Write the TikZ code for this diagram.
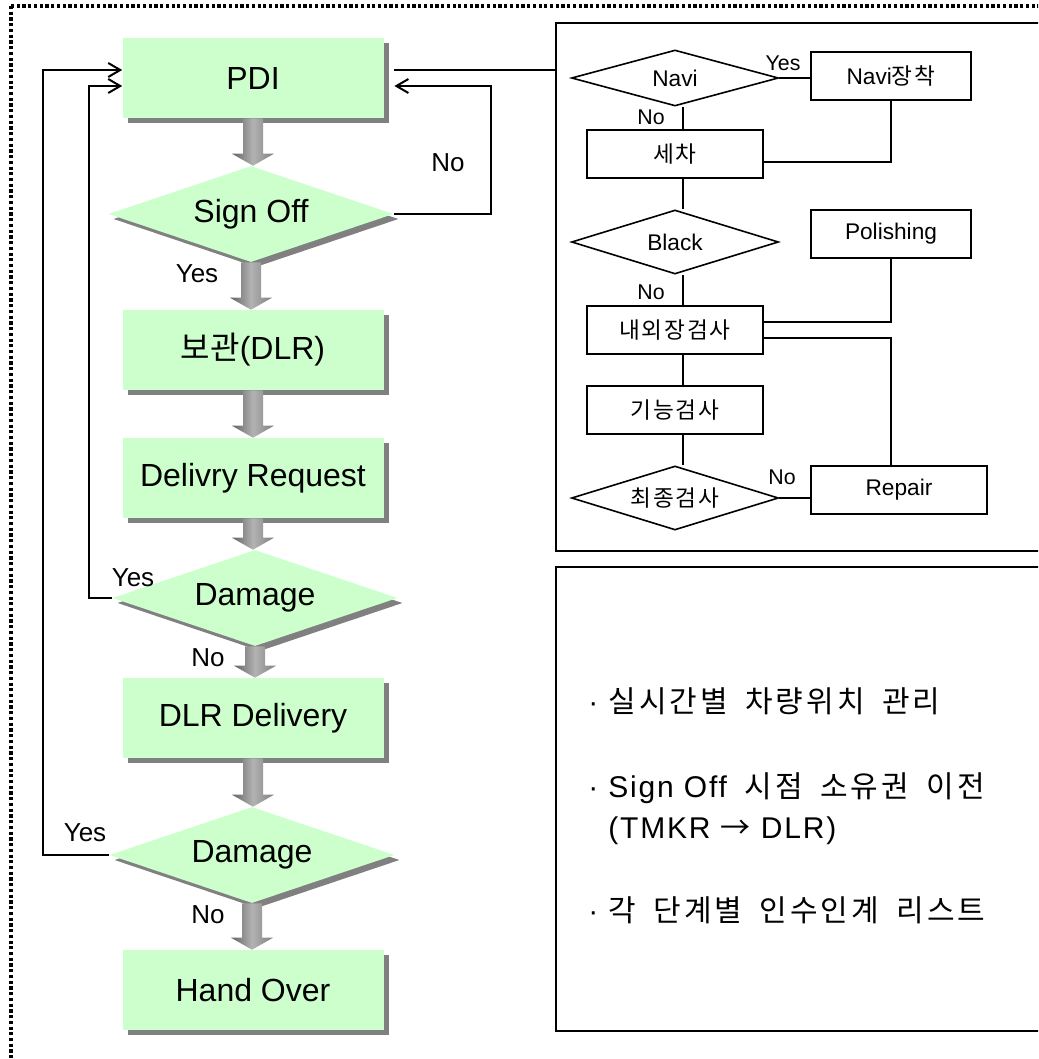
\documentclass[tikz,border=0pt]{standalone}
\usepackage{fontspec}
\setmainfont{Liberation Sans}
\newfontfamily\kr{Noto Sans CJK KR}
\newfontfamily\krproc[LetterSpace=8]{Noto Sans CJK KR}
\newfontfamily\krnote[LetterSpace=10,WordSpace=1.8]{Noto Sans CJK KR}
\newfontfamily\latnote[LetterSpace=6]{Liberation Sans}
\usepackage{tikz}
\usetikzlibrary{arrows.meta,positioning,calc,shapes.geometric,shadows}

\definecolor{mint}{RGB}{204,255,204}

\tikzset{
	dotframe/.style={draw=black, line width=3pt, dash pattern=on 2.4pt off 1.9pt},
	flowshadow/.style={drop shadow={shadow xshift=3.75pt, shadow yshift=-3.75pt, fill=black!50, opacity=1}},
	flowbox/.style={fill=mint, flowshadow, minimum width=195.75pt, minimum height=60pt, inner sep=0pt, font=\fontsize{24}{28}\selectfont},
	flowdia/.style={diamond, aspect=3, fill=mint, flowshadow, minimum width=213.75pt, minimum height=72pt, inner sep=0pt, font=\fontsize{24}{28}\selectfont},
	yesno/.style={font=\fontsize{19.5}{22}\selectfont},
	blockarrow/.style={left color=black!62, right color=black!50, middle color=black!30},
	loopline/.style={line width=1.5pt, -{Straight Barb[length=9pt,width=10.5pt]}},
	thinline/.style={line width=1.4pt},
	panel/.style={draw, line width=1.4pt, anchor=north west, minimum width=375pt, inner sep=0pt},
	procbox/.style={draw, line width=1.2pt, minimum width=132pt, minimum height=36pt, inner sep=0pt, font=\fontsize{17}{20}\selectfont},
	procdia/.style={diamond, aspect=3, draw, line width=1.2pt, minimum width=155.25pt, minimum height=42pt, inner sep=0pt, font=\fontsize{17}{20}\selectfont},
	procline/.style={line width=1.2pt},
	smalllabel/.style={font=\fontsize{16}{19}\selectfont},
	notetext/.style={anchor=base west, align=left, inner sep=0pt, font=\fontsize{22.5}{30.75}\selectfont\latnote}
}

\begin{document}
\begin{tikzpicture}[x=0.75pt, y=-0.75pt]
	\clip (0,0) rectangle (1038,1059);

	%Rahmen
	\path[dotframe] (11,6) rectangle (1070,1090);

	%Hauptablauf
	\node[flowbox] (pdi) at (253,78) {PDI};
	\node[flowdia] (signoff) at (251,214) {Sign Off};
	\node[flowbox] (store) at (253,350) {{\kr 보관}(DLR)};
	\node[flowbox] (request) at (253,478) {Delivry Request};
	\node[flowdia] (dmgA) at (255,598) {Damage};
	\node[flowbox] (delivery) at (253,718) {DLR Delivery};
	\node[flowdia] (dmgB) at (252,855) {Damage};
	\node[flowbox] (handover) at (253,990) {Hand Over};

	\foreach \from/\to in {pdi/signoff,signoff/store,store/request,request/dmgA,dmgA/delivery,delivery/dmgB,dmgB/handover}
		\path[blockarrow] let \p1=(\from.south), \p2=(\to.north) in
			(\x1-7.5pt,\y1) -- (\x1+7.5pt,\y1) -- (\x1+7.5pt,\y2+9pt) -- (\x1+15.75pt,\y2+9pt)
			-- (\x1,\y2) -- (\x1-15.75pt,\y2+9pt) -- (\x1-7.5pt,\y2+9pt) -- cycle;

	%Rueckfuehrungen
	\draw[loopline] (dmgB.west) -- ++(-66,0) |- ([yshift=6pt]pdi.west);
	\draw[loopline] (dmgA.west) -- ++(-23,0) |- ([yshift=-6pt]pdi.west);
	\draw[loopline] (signoff.east) -- ++(97,0) |- ([xshift=8pt,yshift=-6pt]pdi.east);

	\node[yesno] (noSign) at (448,163) {No};
	\node[yesno] (yesSign) at (197,274) {Yes};
	\node[yesno] (yesDmgA) at (133,578) {Yes};
	\node[yesno] (noDmgA) at (208,658) {No};
	\node[yesno] (yesDmgB) at (85,833) {Yes};
	\node[yesno] (noDmgB) at (208,915) {No};

	%Detailablauf
	\node[panel, minimum height=396pt] (procpanel) at (555,22) {};
	\node[panel, minimum height=348pt] (notepanel) at (555,566) {};
	\draw[thinline] ([xshift=7.5pt,yshift=6pt]pdi.east) coordinate (link) -- (link -| procpanel.west);

	\node[procdia] (navi) at (675,78) {Navi};
	\node[procbox, minimum width=120pt] (naviset) at (891,76) {Navi{\krproc 장착}};
	\node[procbox] (wash) at (675,154) {{\krproc 세차}};
	\node[procdia, minimum height=48pt] (black) at (675,242) {Black};
	\node[procbox, minimum width=120pt] (polish) at (891,234) {Polishing};
	\node[procbox] (exterior) at (675,330) {{\krproc 내외장검사}};
	\node[procbox] (function) at (675,410) {{\krproc 기능검사}};
	\node[procdia, minimum height=48pt] (final) at (675,498) {{\krproc 최종검사}};
	\node[procbox] (repair) at (899,490) {Repair};

	\draw[procline] ([xshift=6pt]navi.south) -- ([xshift=6pt]wash.north);
	\draw[procline] (navi.east) -- (navi.east -| naviset.west);
	\draw[procline] (naviset.south) |- ([yshift=-6pt]wash.east);
	\draw[procline] ([xshift=6pt]wash.south) -- ([xshift=6pt]black.north);
	\draw[procline] ([xshift=6pt]black.south) -- ([xshift=6pt]exterior.north);
	\draw[procline] (polish.south) |- ([yshift=6pt]exterior.east);
	\draw[procline] ([yshift=-6pt]exterior.east) -| ([xshift=-6pt]repair.north);
	\draw[procline] ([xshift=6pt]exterior.south) -- ([xshift=6pt]function.north);
	\draw[procline] ([xshift=6pt]function.south) -- ([xshift=6pt]final.north);
	\draw[procline] (final.east) -- (final.east -| repair.west);

	\node[smalllabel] (yesNavi) at (783,63) {Yes};
	\node[smalllabel] (noNavi) at (651,117) {No};
	\node[smalllabel] (noBlack) at (651,292) {No};
	\node[smalllabel] (noFinal) at (782,477) {No};

	%Hinweise
	\node[notetext] (note1) at (588,712) {· {\krnote 실시간별 차량위치 관리}};
	\node[notetext] (note2) at (588,838) {· Sign Off{\krnote\ 시점 소유권 이전}\\\hphantom{· }(TMKR {\kr →} DLR)};
	\node[notetext] (note3) at (588,921) {· {\krnote 각 단계별 인수인계 리스트}};

\end{tikzpicture}
\end{document}
